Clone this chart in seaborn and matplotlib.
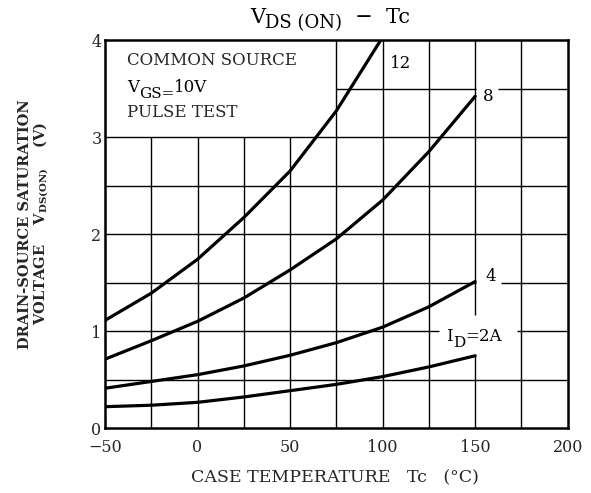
import matplotlib
matplotlib.use("Agg")
import matplotlib.pyplot as plt
import seaborn as sns
import pandas as pd

# ---- data ----
TC = [-50, -25, 0, 25, 50, 75, 100, 125, 150]
V_2A = [0.22, 0.235, 0.265, 0.32, 0.385, 0.45, 0.53, 0.63, 0.745]
V_4A = [0.41, 0.48, 0.55, 0.64, 0.75, 0.88, 1.04, 1.25, 1.51]
V_8A = [0.71, 0.90, 1.10, 1.34, 1.63, 1.95, 2.35, 2.85, 3.42]
TC_12 = [-50, -25, 0, 25, 50, 75, 99]
V_12A = [1.11, 1.39, 1.74, 2.17, 2.65, 3.27, 4.0]

X_TICKS = [-50, 0, 50, 100, 150, 200]
Y_TICKS = [0, 1, 2, 3, 4]

frames = []
for name, xs, ys in [("2A", TC, V_2A), ("4A", TC, V_4A), ("8A", TC, V_8A), ("12A", TC_12, V_12A)]:
    frames.append(pd.DataFrame({"Tc": xs, "V": ys, "ID": name}))
df = pd.concat(frames, ignore_index=True)

sns.set_style("white")
plt.rcParams["font.family"] = ["DejaVu Serif"]
plt.rcParams["mathtext.fontset"] = "dejavuserif"

fig = plt.figure(figsize=(5.91, 4.93), dpi=100)
ax = fig.add_axes([0.1777, 0.1318, 0.7829, 0.787])

# grid (drawn as segments because the reference leaves gaps for labels)
gk = dict(color="black", lw=1.0, zorder=1)
ax.vlines([-25, 0, 25, 50], 0, 3, **gk)
ax.vlines([75, 100, 125, 175], 0, 4, **gk)
ax.vlines(150, 0, 0.745, **gk)
ax.vlines(150, 1.165, 4, **gk)
ax.hlines([0.5, 2.0, 2.5, 3.0], -50, 200, **gk)
ax.hlines(1.0, -50, 130.4, **gk)
ax.hlines(1.0, 172.8, 200, **gk)
ax.hlines(1.5, -50, 150.2, **gk)
ax.hlines(1.5, 163.7, 200, **gk)
ax.hlines(3.5, 75, 150.3, **gk)
ax.hlines(3.5, 162.3, 200, **gk)

sns.lineplot(data=df, x="Tc", y="V", hue="ID", units="ID", estimator=None,
             palette=["black"] * 4, linewidth=2.3, legend=False, ax=ax, zorder=3)

ax.set_xlim(-50, 200)
ax.set_ylim(0, 4)
ax.set_xticks(X_TICKS)
ax.set_yticks(Y_TICKS)
ax.tick_params(length=0, labelsize=11.5)
ax.tick_params(axis="x", pad=8)
ax.tick_params(axis="y", pad=2.5)
for s in ax.spines.values():
    s.set_linewidth(1.8)
    s.set_color("black")


def chain(x, y, parts, transform):
    """parts: list of (text, fontsize, dy_points); first part anchored at (x, y) baseline."""
    s0, f0, _ = parts[0]
    first = ax.text(x, y, s0, fontsize=f0, ha="left", va="baseline",
                    transform=transform, color="black")
    prev = first
    for s, f, dy in parts[1:]:
        prev = ax.annotate(s, xy=(1, 0), xycoords=(prev, first),
                           xytext=(0, dy), textcoords="offset points",
                           fontsize=f, ha="left", va="bottom", color="black",
                           annotation_clip=False)
    return first


# curve labels
tk = dict(fontsize=12, ha="left", va="center", color="black")
ax.text(104.2, 3.76, "12", **tk)
ax.text(154.3, 3.42, "8", **tk)
ax.text(155.3, 1.56, "4", **tk)
chain(134.5, 0.897, [("I", 12, 0), ("D", 11, -3.5), ("=2A", 12, 0)], ax.transData)

# condition box text
ax.text(-38.3, 3.742, "COMMON SOURCE", fontsize=12, ha="left", va="baseline")
chain(-38.3, 3.467, [("V", 12, 0), ("GS=", 11, -3.5), ("10V", 12, 0)], ax.transData)
ax.text(-38.3, 3.203, "PULSE TEST", fontsize=12, ha="left", va="baseline")

# title
chain(0.313, 1.044, [("V", 15, 0), ("DS (ON)", 13, -4), ("  −  Tc", 15, 0)], ax.transAxes)

ax.set_xlabel("CASE TEMPERATURE   Tc   (°C)", fontsize=12.5, va="center")
ax.xaxis.set_label_coords(0.497, -0.129)
ax.set_ylabel("DRAIN-SOURCE SATURATION\nVOLTAGE    V$_{\\mathbf{DS(ON)}}$    (V)",
              fontsize=10.5, fontweight="bold", va="center", linespacing=1.0)
ax.yaxis.set_label_coords(-0.153, 0.526)

fig.savefig("out.png", dpi=100)
